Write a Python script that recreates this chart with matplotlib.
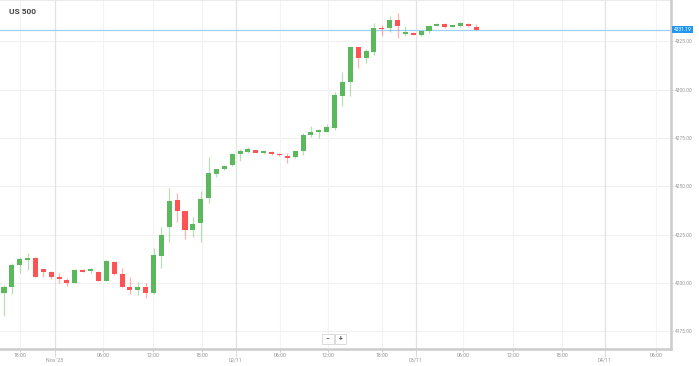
import numpy as np
import matplotlib.pyplot as plt
from matplotlib.patches import Rectangle
import matplotlib.transforms as mtransforms

plt.rcParams['font.family'] = ['Roboto', 'DejaVu Sans']

# hourly candles, US 500
opens  = [4194.7, 4197.8, 4209.3, 4211.9, 4212.8, 4207.2, 4205.8, 4203.0, 4201.6, 4200.2,
          4206.7, 4206.2, 4205.8, 4201.2, 4211.0, 4204.7, 4198.1, 4196.4, 4198.1, 4194.7,
          4214.1, 4228.8, 4242.8, 4237.4, 4227.4, 4230.9, 4243.8, 4256.6, 4258.9, 4261.1,
          4266.6, 4268.0, 4268.7, 4267.3, 4267.8, 4266.9, 4265.9, 4265.1, 4268.2, 4276.6,
          4278.3, 4278.3, 4280.1, 4296.8, 4303.9, 4322.3, 4316.3, 4319.7, 4332.1, 4331.8,
          4336.1, 4328.9, 4329.6, 4328.2, 4330.6, 4333.2, 4334.3, 4332.7, 4333.2, 4334.1,
          4332.7]
highs  = [4199.0, 4210.2, 4213.3, 4215.4, 4213.3, 4207.2, 4206.2, 4205.0, 4202.4, 4207.1,
          4207.1, 4207.6, 4206.2, 4211.9, 4211.4, 4207.6, 4203.0, 4200.4, 4200.2, 4218.3,
          4228.8, 4249.0, 4246.4, 4237.4, 4234.3, 4247.6, 4265.4, 4259.0, 4261.1, 4267.1,
          4269.4, 4270.2, 4269.0, 4268.5, 4268.2, 4267.1, 4267.1, 4268.5, 4277.8, 4281.3,
          4279.7, 4282.3, 4299.0, 4309.4, 4322.3, 4322.3, 4321.0, 4334.7, 4333.5, 4338.2,
          4339.6, 4333.0, 4329.8, 4330.6, 4333.5, 4334.5, 4334.5, 4333.5, 4335.0, 4334.7,
          4334.1]
lows   = [4182.9, 4194.3, 4205.3, 4206.7, 4203.0, 4203.0, 4202.2, 4199.8, 4198.4, 4199.8,
          4205.7, 4205.0, 4201.0, 4200.9, 4204.1, 4197.8, 4194.3, 4193.6, 4192.1, 4194.3,
          4207.9, 4221.4, 4231.7, 4222.9, 4223.7, 4221.4, 4241.3, 4254.7, 4258.5, 4260.6,
          4263.3, 4267.4, 4267.1, 4266.8, 4266.1, 4265.9, 4262.3, 4264.5, 4266.1, 4275.7,
          4274.9, 4278.2, 4279.2, 4291.6, 4296.8, 4311.1, 4313.7, 4318.0, 4327.8, 4330.1,
          4326.7, 4327.8, 4328.2, 4327.8, 4329.6, 4333.0, 4332.1, 4332.5, 4332.7, 4332.7,
          4331.1]
closes = [4198.1, 4209.3, 4212.3, 4212.8, 4203.3, 4205.5, 4203.0, 4201.9, 4200.2, 4206.7,
          4205.8, 4206.7, 4201.2, 4211.5, 4204.5, 4198.1, 4196.4, 4197.8, 4194.7, 4214.5,
          4224.8, 4242.4, 4237.3, 4227.4, 4230.7, 4243.5, 4256.8, 4259.0, 4260.7, 4266.6,
          4268.1, 4269.2, 4267.4, 4268.0, 4266.6, 4266.1, 4264.9, 4268.2, 4276.6, 4278.3,
          4278.8, 4280.7, 4297.3, 4304.2, 4322.0, 4316.6, 4320.1, 4331.8, 4331.3, 4336.1,
          4333.0, 4329.7, 4328.4, 4330.5, 4333.2, 4334.3, 4332.4, 4333.4, 4334.5, 4332.9,
          4331.19]

last_price = 4331.19
price_ticks = [4175, 4200, 4225, 4250, 4275, 4300, 4325]

hour_pos = [2.03, 12.58, 18.93, 25.16, 35.07, 41.17, 48.03, 58.32, 64.68, 70.9, 82.85]
hour_lbl = ['18:00', '06:00', '12:00', '18:00', '06:00', '12:00', '18:00', '06:00', '12:00', '18:00', '06:00']
day_pos = [6.48, 29.48, 52.35, 76.37]
day_lbl = ["Nov '23", '02/11', '03/11', '04/11']

green = '#5cb85c'
red = '#ff5252'
grey_txt = '#959595'

fig = plt.figure(figsize=(6.99, 3.66), dpi=100)
ax = fig.add_axes([0, 17/366, 671/699, 349/366])

ax.set_xlim(-0.508, 84.75)
ax.set_ylim(4165.84, 4346.48)

x = np.arange(len(opens))
o = np.array(opens); c = np.array(closes)
cols = [green if cc >= oo else red for oo, cc in zip(o, c)]

# grid
for p in price_ticks:
    ax.axhline(p, color='#f0f0f0', lw=0.8, zorder=0)
for p in hour_pos:
    ax.axvline(p, color='#f3f3f3', lw=0.8, zorder=0)
for p in day_pos:
    ax.axvline(p, color='#e2e2e2', lw=0.9, zorder=0)

# candles
ax.vlines(x, lows, highs, colors=cols, lw=0.9, alpha=0.45, zorder=2)
bottoms = np.minimum(o, c)
heights = np.maximum(np.abs(c - o), 0.8)
ax.bar(x, heights, bottom=bottoms, width=0.64, color=cols, zorder=3, linewidth=0)

# last price line + tag
ax.axhline(last_price, color='#9fd0f5', lw=0.9, zorder=1)
ax.text(1.004, last_price, '4331.19', transform=mtransforms.blended_transform_factory(ax.transAxes, ax.transData),
        fontsize=3.5, color='white', va='center', ha='left',
        bbox=dict(boxstyle='square,pad=0.3', fc='#2196f3', ec='none'), clip_on=False, zorder=5)

# title
ax.text(9/671, 1 - 12/349, 'US 500', transform=ax.transAxes, fontsize=6, fontweight='bold',
        color='#444444', va='center', ha='left')

# axes styling
for s in ['left', 'top']:
    ax.spines[s].set_visible(False)
ax.spines['right'].set_color('#cccccc')
ax.spines['right'].set_linewidth(1.8)
ax.spines['bottom'].set_color('#cccccc')
ax.spines['bottom'].set_linewidth(1.8)
ax.axhline(4346.48, color='#e6e6e6', lw=1.2)

ax.yaxis.tick_right()
ax.set_yticks(price_ticks, labels=['%.2f' % p for p in price_ticks])
ax.tick_params(axis='y', length=1.5, width=0.5, color='#bbbbbb', pad=1, labelsize=3.5, labelcolor=grey_txt)

ax.set_xticks(hour_pos, labels=hour_lbl)
ax.set_xticks(day_pos, labels=day_lbl, minor=True)
ax.tick_params(axis='x', which='major', length=1.8, width=0.5, color='#bbbbbb', pad=1.2,
               labelsize=3.8, labelcolor=grey_txt)
ax.tick_params(axis='x', which='minor', length=5.5, width=0.5, color='#cccccc', pad=0.8,
               labelsize=3.8, labelcolor=grey_txt)

# zoom buttons
bt = ax.transAxes
for i, sym in enumerate(['\u2212', '+']):
    x0 = (322 + i * 12.5) / 671
    ax.add_patch(Rectangle((x0, 5/349), 11.5/671, 10/349, transform=bt, fc='white',
                           ec='#d5d5d5', lw=0.6, zorder=6))
    ax.text(x0 + 5.75/671, 10/349, sym, transform=bt, fontsize=5, color='#555555',
            ha='center', va='center', zorder=7, fontweight='bold')

fig.savefig('out.png', dpi=100)
